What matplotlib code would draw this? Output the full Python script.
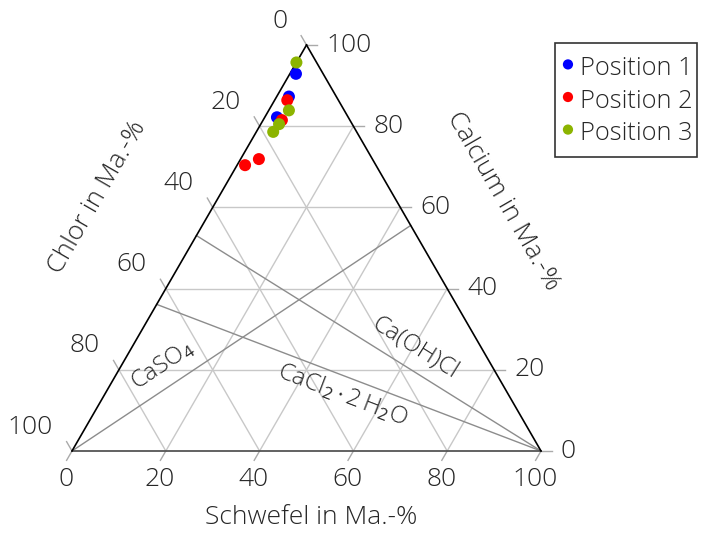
import numpy as np
import matplotlib
matplotlib.use("Agg")
import matplotlib.pyplot as plt
from matplotlib.patches import Rectangle

plt.rcParams['font.family'] = ['Open Sans', 'DejaVu Sans']
plt.rcParams['mathtext.fontset'] = 'custom'
plt.rcParams['mathtext.rm'] = 'Open Sans'
plt.rcParams['mathtext.it'] = 'Open Sans'

# measured values (Ma.-%) - Schwefel, Calcium (Chlor is the rest)
pos1_s = [1.3, 2.6, 2.6]
pos1_ca = [92.9, 87.3, 82.2]

pos2_s = [2.7, 4.0, 3.9, 1.7]
pos2_ca = [86.4, 81.5, 71.9, 70.4]

pos3_s = [0.0, 4.3, 3.9, 3.6]
pos3_ca = [95.7, 83.9, 80.5, 78.6]

series_names = ["Position 1", "Position 2", "Position 3"]
series_colors = ["#0000ff", "#ff0000", "#8cb400"]

ticks = [0, 20, 40, 60, 80, 100]

# Ca share of the binary end members (mass fractions)
M_CA, M_S, M_CL = 40.08, 32.06, 35.45
caso4_ca = 100 * M_CA / (M_CA + M_S)          # on Ca-S side
caohcl_ca = 100 * M_CA / (M_CA + M_CL)        # on Ca-Cl side
cacl2_ca = 100 * M_CA / (M_CA + 2 * M_CL)     # on Ca-Cl side

TXT = "#262626"
GRID = "#c8c8c8"
LINE = "#8c8c8c"
FS = 19
FS_C = 17.4
H = np.sqrt(3) / 2


def tern(s, ca):
    # ternary -> cartesian (S bottom right, Ca top, Cl bottom left)
    s = np.asarray(s, dtype=float)
    ca = np.asarray(ca, dtype=float)
    return s + ca / 2, ca * H


def angle(p0, p1):
    return np.degrees(np.arctan2(p1[1] - p0[1], p1[0] - p0[0]))


fig = plt.figure(figsize=(7.01, 5.34), dpi=100)
ax = fig.add_axes([72 / 701, 83 / 534, 469 / 701, 406 / 534])
ax.set_xlim(0, 100)
ax.set_ylim(0, 100 * H)
ax.axis("off")

# grid lines
for t in ticks[1:-1]:
    x, y = tern([0, 100 - t], [t, t])        # constant Ca
    ax.plot(x, y, color=GRID, lw=1, clip_on=False, zorder=1)
    x, y = tern([t, t], [0, 100 - t])        # constant S
    ax.plot(x, y, color=GRID, lw=1, clip_on=False, zorder=1)
    x, y = tern([100 - t, 0], [0, 100 - t])  # constant Cl
    ax.plot(x, y, color=GRID, lw=1, clip_on=False, zorder=1)

# compound lines
p_caso4 = tern(100 - caso4_ca, caso4_ca)
p_caohcl = tern(0, caohcl_ca)
p_cacl2 = tern(0, cacl2_ca)
p_cl = tern(0, 0)
p_s = tern(100, 0)
ax.plot([p_cl[0], p_caso4[0]], [p_cl[1], p_caso4[1]], color=LINE, lw=1, clip_on=False, zorder=2)
ax.plot([p_caohcl[0], p_s[0]], [p_caohcl[1], p_s[1]], color=LINE, lw=1, clip_on=False, zorder=2)
ax.plot([p_cacl2[0], p_s[0]], [p_cacl2[1], p_s[1]], color=LINE, lw=1, clip_on=False, zorder=2)

# triangle edges
x, y = tern([0, 100], [0, 0])
ax.plot(x, y, color="#555555", lw=1.3, clip_on=False, zorder=3)
x, y = tern([0, 0], [0, 100])
ax.plot(x, y, color="black", lw=1.2, clip_on=False, zorder=3)
x, y = tern([100, 0], [0, 100])
ax.plot(x, y, color="black", lw=1.2, clip_on=False, zorder=3)

# ticks and tick labels
tl = 2.3
for t in ticks:
    # Schwefel (bottom)
    x, y = tern(t, 0)
    ax.plot([x, x - tl * 0.5], [y, y - tl * H], color="#aaaaaa", lw=1, clip_on=False)
    ax.annotate(str(t), (x, y), xytext=(-6, -29), textcoords="offset pixels",
                ha="center", va="center", fontsize=FS, color=TXT, fontweight="light")
    # Calcium (right)
    x, y = tern(100 - t, t)
    ax.plot([x, x + tl], [y, y], color="#aaaaaa", lw=1, clip_on=False)
    ax.annotate(str(t), (x, y), xytext=(20, 0), textcoords="offset pixels",
                ha="left", va="center", fontsize=FS, color=TXT, fontweight="light")
    # Chlor (left)
    x, y = tern(0, 100 - t)
    ax.plot([x, x - tl * 0.5], [y, y + tl * H], color="#aaaaaa", lw=1, clip_on=False)
    ax.annotate(str(t), (x, y), xytext=(-19, 24), textcoords="offset pixels",
                ha="right", va="center", fontsize=FS, color=TXT, fontweight="light")

# compound labels
ax.text(19.4, 18.3, r"CaSO$_4$", rotation=angle(p_cl, p_caso4), rotation_mode="anchor",
        ha="center", va="center", fontsize=FS_C, color=TXT, fontweight="light")
ax.text(73.1, 22.0, "Ca(OH)Cl", rotation=angle(p_caohcl, p_s), rotation_mode="anchor",
        ha="center", va="center", fontsize=FS_C, color=TXT, fontweight="light")
ax.text(57.6, 12.1, r"CaCl$_2\,{\cdot}\,$2$\,$H$_2$O", rotation=angle(p_cacl2, p_s),
        rotation_mode="anchor", ha="center", va="center", fontsize=FS_C, color=TXT,
        fontweight="light")

# axis titles
ax.text(51.0, -14.1, "Schwefel in Ma.-%", ha="center", va="center",
        fontsize=FS, color=TXT, fontweight="light")
ax.text(5.5, 54.2, "Chlor in Ma.-%", rotation=60, rotation_mode="anchor",
        ha="center", va="center", fontsize=FS, color=TXT, fontweight="light")
ax.text(91.9, 53.3, "Calcium in Ma.-%", rotation=-60, rotation_mode="anchor",
        ha="center", va="center", fontsize=FS, color=TXT, fontweight="light")

# data points
handles = []
for s, ca, name, col in zip([pos1_s, pos2_s, pos3_s], [pos1_ca, pos2_ca, pos3_ca],
                            series_names, series_colors):
    x, y = tern(s, ca)
    h = ax.scatter(x, y, s=75, color=col, edgecolors="none", label=name,
                   clip_on=False, zorder=5)
    handles.append(h)

# legend (frame drawn separately)
fig.patches.append(Rectangle((555 / 701, 377 / 534), 142 / 701, 114 / 534,
                             transform=fig.transFigure, facecolor="white",
                             edgecolor="#333333", lw=1.2, zorder=0))
leg = fig.legend(handles=handles, loc="upper left", bbox_to_anchor=(555 / 701, 491 / 534),
                 borderaxespad=0, frameon=False, fontsize=18.3,
                 handlelength=0.28, handletextpad=0.32, labelspacing=0.16,
                 handleheight=1.32, borderpad=0.37, markerscale=0.85)
for t in leg.get_texts():
    t.set_color(TXT)
    t.set_fontweight("light")

fig.savefig("out.png", dpi=100)
